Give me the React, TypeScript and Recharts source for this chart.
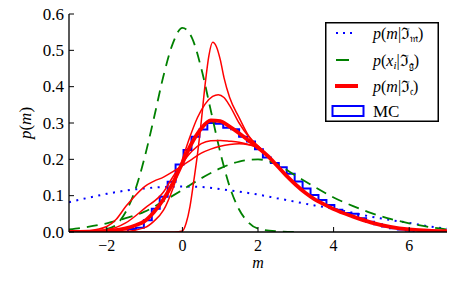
import React from "react";
import { ComposedChart, Line, XAxis, YAxis, Legend } from "recharts";

const xTicks = [-2, 0, 2, 4, 6];
const yTicks = [0, 0.1, 0.2, 0.3, 0.4, 0.5, 0.6];

// p(m | I_m), wide prior (blue dots)
const priorCurve: [number, number][] = [
  [-3, 0.082], [-2.5, 0.094], [-2, 0.105], [-1.5, 0.114], [-1, 0.12], [-0.5, 0.124],
  [0, 0.125], [0.5, 0.124], [1, 0.118], [1.5, 0.111], [2, 0.103], [2.5, 0.093],
  [3, 0.083], [3.5, 0.073], [4, 0.064], [4.5, 0.053], [5, 0.042], [5.5, 0.033],
  [6, 0.025], [6.5, 0.016], [7, 0.009],
];

// p(x_i | I_g), two gaussians (green dashes)
const narrowGauss: [number, number][] = [
  [-3, 0], [-2.5, 0.001], [-2, 0.008], [-1.75, 0.02], [-1.5, 0.055], [-1.25, 0.115],
  [-1, 0.205], [-0.75, 0.315], [-0.5, 0.43], [-0.25, 0.52], [0, 0.562], [0.25, 0.535],
  [0.5, 0.45], [0.75, 0.335], [1, 0.22], [1.25, 0.125], [1.5, 0.062], [1.75, 0.026],
  [2, 0.009], [2.5, 0.002], [3, 0],
];
const wideGauss: [number, number][] = [
  [-3, 0.007], [-2.5, 0.014], [-2, 0.024], [-1.5, 0.038], [-1, 0.056], [-0.5, 0.085],
  [0, 0.116], [0.5, 0.148], [1, 0.175], [1.5, 0.194], [2, 0.2], [2.5, 0.186],
  [3, 0.155], [3.5, 0.124], [4, 0.095], [4.5, 0.072], [5, 0.052], [5.5, 0.036],
  [6, 0.024], [6.5, 0.014], [7, 0.007],
];

// p(m | I_c), combined (thick red) and the single-step fits (thin red)
const combined: [number, number][] = [
  [-3, 0], [-2.5, 0.001], [-2, 0.003], [-1.5, 0.01], [-1.25, 0.018], [-1, 0.03],
  [-0.75, 0.055], [-0.5, 0.09], [-0.25, 0.135], [0, 0.19], [0.25, 0.245], [0.5, 0.285],
  [0.75, 0.307], [1, 0.305], [1.25, 0.29], [1.5, 0.272], [1.75, 0.252], [2, 0.232],
  [2.25, 0.21], [2.5, 0.183], [2.75, 0.155], [3, 0.13], [3.25, 0.108], [3.5, 0.09],
  [3.75, 0.076], [4, 0.063], [4.5, 0.043], [5, 0.026], [5.5, 0.014], [6, 0.007],
  [6.5, 0.004], [7, 0.002],
];
const fitTall: [number, number][] = [
  [-3, 0], [-0.2, 0], [0, 0.003], [0.1, 0.025], [0.2, 0.07], [0.3, 0.14], [0.4, 0.215],
  [0.5, 0.305], [0.6, 0.405], [0.7, 0.485], [0.8, 0.522], [0.9, 0.51], [1, 0.475],
  [1.1, 0.425], [1.25, 0.37], [1.5, 0.315], [1.75, 0.265], [2, 0.235], [2.25, 0.211],
  [2.5, 0.183],
];
const fitMid: [number, number][] = [
  [-3, 0], [-2, 0.001], [-1.5, 0.002], [-1, 0.012], [-0.75, 0.03], [-0.5, 0.06],
  [-0.25, 0.12], [0, 0.2], [0.2, 0.262], [0.4, 0.315], [0.6, 0.352], [0.8, 0.373],
  [0.95, 0.378], [1.1, 0.37], [1.25, 0.348], [1.5, 0.3], [1.75, 0.263], [2, 0.237],
  [2.25, 0.212], [2.5, 0.183],
];
const fitFlat: [number, number][] = [
  [-3, 0], [-2.5, 0.002], [-2, 0.006], [-1.5, 0.025], [-1, 0.065], [-0.5, 0.11],
  [-0.25, 0.152], [0, 0.19], [0.25, 0.222], [0.5, 0.243], [0.75, 0.251], [1, 0.252],
  [1.25, 0.25], [1.5, 0.247], [1.75, 0.241], [2, 0.232], [2.25, 0.21], [2.5, 0.183],
];
const fitWide: [number, number][] = [
  [-3, 0], [-2.5, 0.003], [-2, 0.015], [-1.75, 0.035], [-1.5, 0.07], [-1.25, 0.1],
  [-1, 0.125], [-0.75, 0.14], [-0.5, 0.151], [-0.25, 0.166], [0, 0.183], [0.25, 0.2],
  [0.5, 0.217], [0.75, 0.228], [1, 0.236], [1.25, 0.241], [1.5, 0.243], [1.75, 0.24],
  [2, 0.232], [2.25, 0.21], [2.5, 0.183],
];

// MC histogram
const mcEdges = [
  -1.44, -1.23, -1.02, -0.81, -0.6, -0.39, -0.18, 0.03, 0.24, 0.45, 0.66, 0.87, 1.08,
  1.29, 1.5, 1.71, 1.92, 2.13, 2.34, 2.55, 2.76, 2.97, 3.18, 3.39, 3.6, 3.81, 4.02,
  4.23, 4.44, 4.65, 4.86, 5.07, 5.28, 5.49, 5.7, 5.91, 6.12,
];
const mcHeights = [
  0.008, 0.012, 0.032, 0.064, 0.097, 0.138, 0.186, 0.226, 0.262, 0.282, 0.3, 0.298,
  0.287, 0.283, 0.262, 0.249, 0.228, 0.205, 0.19, 0.178, 0.16, 0.139, 0.12, 0.102,
  0.088, 0.074, 0.061, 0.052, 0.05, 0.038, 0.028, 0.021, 0.015, 0.01, 0.007, 0.004,
];

const toPts = (pts: [number, number][]) => pts.map(([m, p]) => ({ m, p }));
const mcSteps = [
  { m: mcEdges[0], p: 0 },
  ...mcEdges.map((e, i) => ({ m: e, p: i < mcHeights.length ? mcHeights[i] : 0 })),
];

const FONT = "'Liberation Serif', 'Times New Roman', serif";
const BLUE = "#0000ff";
const GREEN = "#008000";
const RED = "#ff0000";

const BottomTick = ({ x, y, payload }: any) => {
  const v = Number(payload.value);
  return (
    <g>
      <line x1={x} x2={x} y1={y} y2={y - 5} stroke="#000" strokeWidth={1} />
      <text x={x} y={y + 19} textAnchor="middle" fontFamily={FONT} fontSize={16} fill="#000">
        {v < 0 ? `\u2212${Math.abs(v)}` : v}
      </text>
    </g>
  );
};
const TopTick = ({ x, y }: any) => (
  <line x1={x} x2={x} y1={y} y2={y + 5} stroke="#000" strokeWidth={1} />
);
const LeftTick = ({ x, y, payload }: any) => (
  <g>
    <line x1={x} x2={x + 5} y1={y} y2={y} stroke="#000" strokeWidth={1} />
    <text x={x - 5} y={y} dy="0.34em" textAnchor="end" fontFamily={FONT} fontSize={17} fill="#000">
      {Number(payload.value).toFixed(1)}
    </text>
  </g>
);
const RightTick = ({ x, y }: any) => (
  <line x1={x} x2={x - 5} y1={y} y2={y} stroke="#000" strokeWidth={1} />
);

const LegendBox = () => {
  const tx = 48;
  const rows = [11, 38, 64, 89];
  const cond = (lhs: string, sub: string, y: number) => (
    <text x={tx} y={y} dy="0.35em" fontFamily={FONT} fontSize={16} fill="#000">
      <tspan fontStyle="italic">p</tspan>(<tspan fontStyle="italic">{lhs}</tspan>
      {lhs === "x" ? (
        <tspan fontStyle="italic" fontSize={11} dy={3}>i</tspan>
      ) : null}
      <tspan dy={lhs === "x" ? -3 : 0}>|ℑ</tspan>
      <tspan fontSize={11} dy={3}>{sub}</tspan>
      <tspan dy={-3}>)</tspan>
    </text>
  );
  return (
    <svg width={114} height={100} style={{ display: "block" }}>
      <rect x={0.75} y={0.75} width={112.5} height={98.5} fill="#fff" stroke="#000" strokeWidth={1.5} />
      <line x1={11} x2={32} y1={rows[0]} y2={rows[0]} stroke={BLUE} strokeWidth={2} strokeDasharray="2 5" />
      {cond("m", "𝔪", rows[0])}
      <line x1={11} x2={24} y1={rows[1]} y2={rows[1]} stroke={GREEN} strokeWidth={2} />
      {cond("x", "𝔤", rows[1])}
      <line x1={10} x2={33} y1={rows[2]} y2={rows[2]} stroke={RED} strokeWidth={4} />
      {cond("m", "𝔠", rows[2])}
      <rect x={7.5} y={84} width={31} height={10} fill="none" stroke={BLUE} strokeWidth={2} />
      <text x={tx} y={rows[3]} dy="0.35em" fontFamily={FONT} fontSize={17} fill="#000">MC</text>
    </svg>
  );
};

const yLabel = (props: any) => {
  const vb = props.viewBox || { x: 0, y: 14, width: 69, height: 218 };
  const cx = vb.x + 25;
  const cy = vb.y + vb.height / 2;
  return (
    <text x={cx} y={cy} transform={`rotate(-90 ${cx} ${cy})`} textAnchor="middle" dy="0.35em"
      fontFamily={FONT} fontSize={17} fill="#000">
      <tspan fontStyle="italic">p</tspan>(<tspan fontStyle="italic">m</tspan>)
    </text>
  );
};
const xLabel = (props: any) => {
  const vb = props.viewBox || { x: 69, y: 232, width: 378, height: 52 };
  return (
    <text x={vb.x + vb.width / 2} y={vb.y + 36} textAnchor="middle" fontFamily={FONT}
      fontStyle="italic" fontSize={16} fill="#000">
      m
    </text>
  );
};

export default function App() {
  return (
    <div style={{ position: "absolute", left: 0, top: 0, width: 461, height: 284, background: "#fff" }}>
      <ComposedChart width={461} height={284} margin={{ top: 14, right: 14, bottom: 0, left: 0 }}>
        <XAxis
          xAxisId={0}
          type="number"
          dataKey="m"
          domain={[-3, 7]}
          ticks={xTicks}
          allowDataOverflow
          height={52}
          tickSize={0}
          tickMargin={0}
          tickLine={false}
          axisLine={{ stroke: "#000", strokeWidth: 1.3 }}
          tick={<BottomTick />}
          label={xLabel}
        />
        <XAxis
          xAxisId="top"
          orientation="top"
          type="number"
          dataKey="m"
          domain={[-3, 7]}
          ticks={xTicks}
          allowDataOverflow
          height={0}
          tickSize={0}
          tickMargin={0}
          tickLine={false}
          axisLine={{ stroke: "#000", strokeWidth: 1.3 }}
          tick={<TopTick />}
        />
        <YAxis
          yAxisId={0}
          type="number"
          dataKey="p"
          domain={[0, 0.6]}
          ticks={yTicks}
          allowDataOverflow
          width={69}
          tickSize={0}
          tickMargin={0}
          tickLine={false}
          axisLine={{ stroke: "#000", strokeWidth: 1.3 }}
          tick={<LeftTick />}
          label={yLabel}
        />
        <YAxis
          yAxisId="right"
          orientation="right"
          type="number"
          dataKey="p"
          domain={[0, 0.6]}
          ticks={yTicks}
          allowDataOverflow
          width={0}
          tickSize={0}
          tickMargin={0}
          tickLine={false}
          axisLine={{ stroke: "#000", strokeWidth: 1.3 }}
          tick={<RightTick />}
        />
        <Line data={mcSteps} dataKey="p" type="stepAfter" stroke={BLUE} strokeWidth={2}
          dot={false} activeDot={false} isAnimationActive={false} />
        <Line data={toPts(priorCurve)} dataKey="p" type="monotone" stroke={BLUE} strokeWidth={2}
          strokeDasharray="2 5.5" dot={false} activeDot={false} isAnimationActive={false} />
        <Line data={toPts(narrowGauss)} dataKey="p" type="monotone" stroke={GREEN} strokeWidth={1.8}
          strokeDasharray="11 7" dot={false} activeDot={false} isAnimationActive={false} />
        <Line data={toPts(wideGauss)} dataKey="p" type="monotone" stroke={GREEN} strokeWidth={1.8}
          strokeDasharray="11 7" dot={false} activeDot={false} isAnimationActive={false} />
        {[fitTall, fitMid, fitFlat, fitWide].map((c, i) => (
          <Line key={i} data={toPts(c)} dataKey="p" type="monotone" stroke={RED} strokeWidth={1.5}
            dot={false} activeDot={false} isAnimationActive={false} />
        ))}
        <Line data={toPts(combined)} dataKey="p" type="monotone" stroke={RED} strokeWidth={3.8}
          dot={false} activeDot={false} isAnimationActive={false} />
        <Legend
          layout="horizontal"
          verticalAlign="middle"
          align="center"
          wrapperStyle={{ position: "absolute", left: 325, top: 22, width: 114, height: 100 }}
          content={() => <LegendBox />}
        />
      </ComposedChart>
    </div>
  );
}
